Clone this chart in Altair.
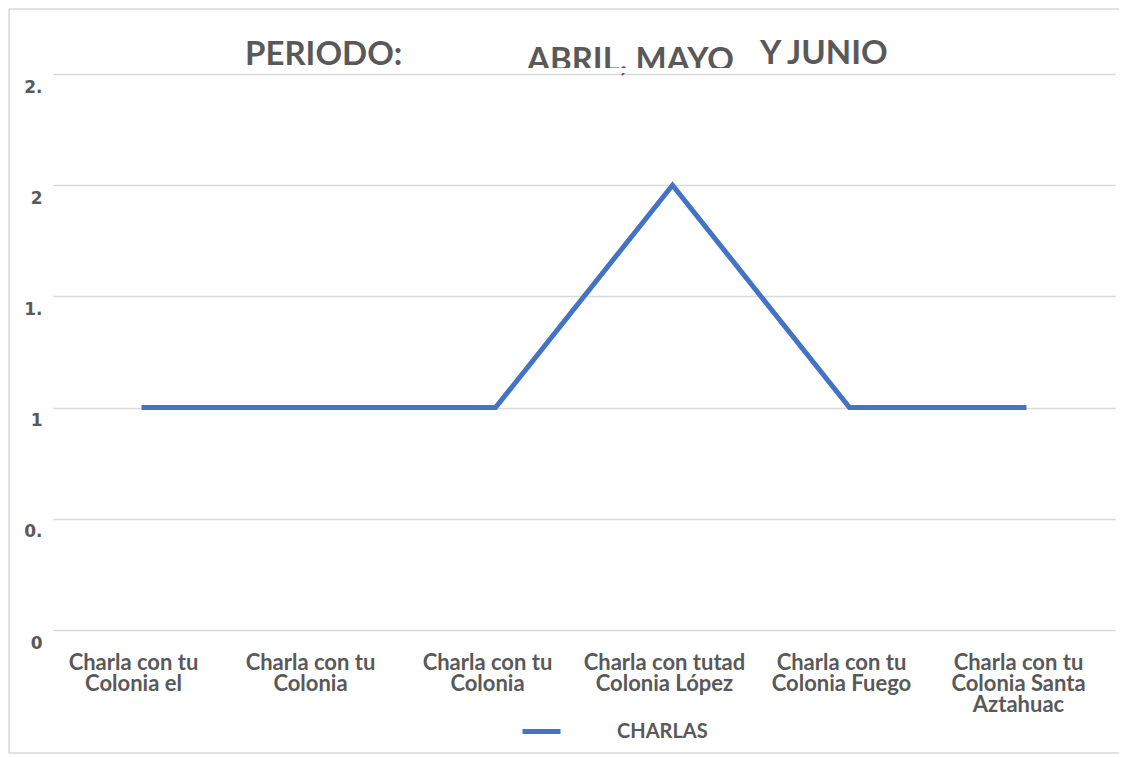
import altair as alt
import pandas as pd

# ---- data ----
categories = [
    "Charla con tu\nColonia el",
    "Charla con tu\nColonia",
    "Charla con tu\nColonia ",
    "Charla con tutad\nColonia López",
    "Charla con tu\nColonia Fuego",
    "Charla con tu\nColonia Santa\nAztahuac",
]
charlas = [1, 1, 1, 2, 1, 1]
series_name = "CHARLAS"
y_ticks = [0, 0.5, 1, 1.5, 2, 2.5]
y_tick_labels = ["0", "0.", "1", "1.", "2", "2."]
title_parts = ["PERIODO:", "ABRIL, MAYO", "Y JUNIO"]

df = pd.DataFrame({
    "idx": list(range(len(categories))),
    "cat": categories,
    "valor": charlas,
    "serie": [series_name] * len(categories),
})

W, H = 1062, 556
TXT = "#595959"
GRID = "#d9d9d9"
BLUE = "#4472C4"

label_list = "[" + ",".join('"%s"' % s for s in y_tick_labels) + "]"

x_enc = alt.X("idx:O", scale=alt.Scale(type="point", padding=0.5), axis=None)

line = alt.Chart(df).mark_line(strokeWidth=5, strokeJoin="miter").encode(
    x=x_enc,
    y=alt.Y("valor:Q", scale=alt.Scale(domain=[0, 2.5], nice=False),
            axis=alt.Axis(values=y_ticks, title=None, domain=False, ticks=False,
                          grid=True, gridColor=GRID, gridWidth=1.5,
                          labelExpr=label_list + "[round(datum.value*2)]",
                          labelFont="DejaVu Sans", labelFontSize=17, labelFontWeight="bold",
                          labelColor=TXT, labelAlign="right", labelBaseline="top",
                          labelOffset=5, labelPadding=11)),
    color=alt.Color("serie:N", scale=alt.Scale(range=[BLUE]),
                    legend=alt.Legend(orient="none", legendX=467, legendY=636, title=None,
                                      symbolType="stroke", symbolSize=1444,
                                      symbolStrokeWidth=5, labelOffset=54,
                                      labelFont="Lato", labelFontSize=20,
                                      labelFontWeight="bold", labelColor=TXT, padding=0)),
)

xlabels = alt.Chart(df).mark_text(
    font="Lato", fontSize=22, fontWeight="bold", color=TXT, align="center",
    baseline="top", lineBreak="\n", lineHeight=21, dx=-8,
).encode(x=x_enc, y=alt.value(579), text="cat:N")

title_cfg = dict(font="Lato", fontSize=33, fontWeight="bold", color=TXT,
                 align="left", baseline="alphabetic")
t1 = alt.Chart(df.head(1)).mark_text(**title_cfg).encode(
    x=alt.value(192), y=alt.value(-9), text=alt.value(title_parts[0]))
t2 = alt.Chart(df.head(1)).mark_text(**title_cfg).encode(
    x=alt.value(474), y=alt.value(-3), text=alt.value(title_parts[1]))
t3 = alt.Chart(df.head(1)).mark_text(**title_cfg).encode(
    x=alt.value(707), y=alt.value(-10), text=alt.value(title_parts[2]))
# white band that cuts the bottom of the middle title piece, as in the reference
cut = alt.Chart(df.head(1)).mark_rect(color="white").encode(
    x=alt.value(465), x2=alt.value(700), y=alt.value(-6), y2=alt.value(-1))

frame_top = alt.Chart(df.head(1)).mark_rule(color=GRID, strokeWidth=1.5).encode(
    x=alt.value(-44), x2=alt.value(1066), y=alt.value(-65))
frame_left = alt.Chart(df.head(1)).mark_rule(color=GRID, strokeWidth=1.5).encode(
    x=alt.value(-44), y=alt.value(-65), y2=alt.value(679))
frame_bottom = alt.Chart(df.head(1)).mark_rule(color=GRID, strokeWidth=1.5).encode(
    x=alt.value(-44), x2=alt.value(1066), y=alt.value(679))

chart = alt.layer(
    frame_top, frame_left, frame_bottom, line, xlabels, t1, t2, t3, cut
).properties(
    width=W, height=H,
    autosize=alt.AutoSizeParams(type="none"),
    padding={"left": 45, "top": 66, "right": 4, "bottom": 124},
).configure_view(stroke=None)

chart.save("out.html", embed_options={"renderer": "svg", "actions": False})
